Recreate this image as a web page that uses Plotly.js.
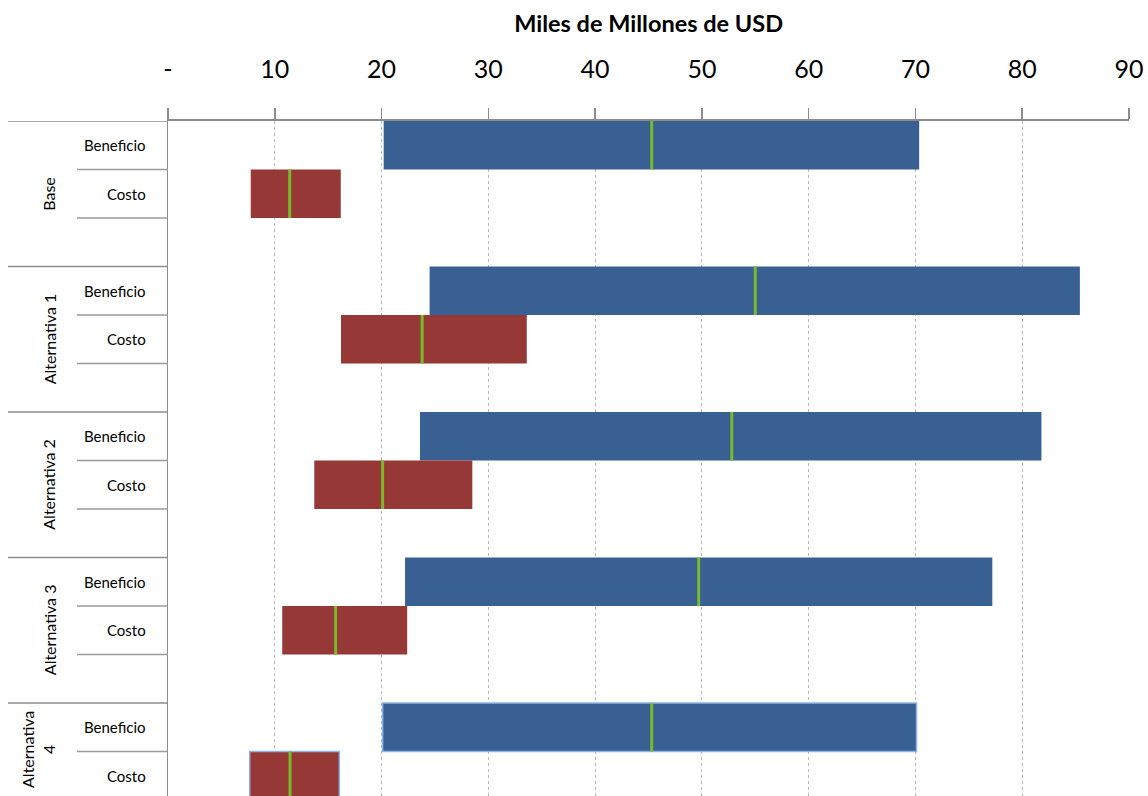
<!DOCTYPE html>
<html>
<head>
<meta charset="utf-8">
<script src="https://cdn.plot.ly/plotly-3.0.1.min.js"></script>
<style>html,body{margin:0;padding:0;background:#fff;}#chart{width:1148px;height:796px;}</style>
</head>
<body>
<div id="chart"></div>
<script>
// ---- data ----
const groups = ['Base', 'Alternativa 1', 'Alternativa 2', 'Alternativa 3', 'Alternativa 4'];
const groupLabels = ['Base', 'Alternativa 1', 'Alternativa 2', 'Alternativa 3', 'Alternativa<br>4'];
const subLabels = ['Beneficio', 'Costo'];
const benMin = [20.2, 24.5, 23.6, 22.2, 20.1];
const benMax = [70.35, 85.4, 81.8, 77.2, 70.1];
const benMid = [45.3, 55.0, 52.8, 49.7, 45.3];
const costMin = [7.75, 16.2, 13.7, 10.7, 7.65];
const costMax = [16.18, 33.6, 28.5, 22.4, 16.05];
const costMid = [11.4, 23.8, 20.1, 15.7, 11.43];
const xTickVals = [0, 10, 20, 30, 40, 50, 60, 70, 80, 90];
const xTickText = ['-', '10', '20', '30', '40', '50', '60', '70', '80', '90'];
const xTitle = 'Miles de Millones de USD';

// ---- build categories (with blank spacer rows between groups) ----
const cats = [];
groups.forEach((g, i) => {
  cats.push(g + '|Beneficio');
  cats.push(g + '|Costo');
  if (i < groups.length - 1) cats.push(g + '|');
});
const benCats = groups.map(g => g + '|Beneficio');
const costCats = groups.map(g => g + '|Costo');

const blue = '#386092', red = '#953836', green = '#7AB92C';
const lastBlue = '#8DB3E2';
const rowPx = 48.5;
const markerSize = rowPx / 1.4; // line-ns symbol spans 1.4 * size

const traces = [
  {
    type: 'bar', orientation: 'h', y: benCats,
    x: benMax.map((v, i) => v - benMin[i]), base: benMin,
    width: 1,
    marker: {color: blue, line: {color: groups.map((g, i) => i === groups.length - 1 ? lastBlue : blue), width: groups.map((g, i) => i === groups.length - 1 ? 1.5 : 0)}},
    hoverinfo: 'x+y'
  },
  {
    type: 'bar', orientation: 'h', y: costCats,
    x: costMax.map((v, i) => v - costMin[i]), base: costMin,
    width: 1,
    marker: {color: red, line: {color: groups.map((g, i) => i === groups.length - 1 ? lastBlue : red), width: groups.map((g, i) => i === groups.length - 1 ? 1.5 : 0)}},
    hoverinfo: 'x+y'
  },
  {
    type: 'scatter', mode: 'markers', y: benCats, x: benMid,
    marker: {symbol: 'line-ns', size: markerSize, color: green, line: {color: green, width: 3}},
    hoverinfo: 'x'
  },
  {
    type: 'scatter', mode: 'markers', y: costCats, x: costMid,
    marker: {symbol: 'line-ns', size: markerSize, color: green, line: {color: green, width: 3}},
    hoverinfo: 'x'
  }
];

// ---- left hierarchical labels & dividers ----
const plotL = 168, plotR = 19, W = 1148;
const pw = W - plotL - plotR;
const px2paper = p => (p - plotL) / pw;
const labelFont = {family: 'Lato, "Open Sans", sans-serif', size: 15, color: '#000'};
const groupFont = {family: 'Lato, "Open Sans", sans-serif', size: 16, color: '#000'};

const shapes = [];
const annotations = [];
let idx = 0;
groups.forEach((g, i) => {
  const start = idx;
  const last = i === groups.length - 1;
  const n = last ? 2 : 3;
  shapes.push({type: 'line', xref: 'paper', yref: 'y', x0: px2paper(8), x1: 0, y0: start - 0.5, y1: start - 0.5,
    line: {color: '#8c8c8c', width: 1.5}});
  for (let k = 1; k < n; k++) {
    shapes.push({type: 'line', xref: 'paper', yref: 'y', x0: px2paper(77), x1: 0, y0: start + k - 0.5, y1: start + k - 0.5,
      line: {color: '#9a9a9a', width: 1.5}});
  }
  subLabels.forEach((s, k) => {
    annotations.push({xref: 'paper', yref: 'y', x: px2paper(148), y: start + k, text: s, showarrow: false,
      xanchor: 'right', yanchor: 'middle', font: labelFont});
  });
  annotations.push({xref: 'paper', yref: 'y', x: px2paper(last ? 38 : 49), y: last ? start + 0.47 : start + 1,
    text: groupLabels[i], showarrow: false, textangle: -90, xanchor: 'center', yanchor: 'middle',
    font: groupFont});
  idx += n;
});

const layout = {
  width: 1148, height: 796,
  margin: {l: plotL, r: plotR, t: 121, b: 0, pad: 0},
  paper_bgcolor: '#fff', plot_bgcolor: '#fff',
  showlegend: false,
  barmode: 'overlay',
  title: {text: '<b>' + xTitle + '</b>', xref: 'container', yref: 'container', x: 0.565, y: 1 - 24 / 796,
    xanchor: 'center', yanchor: 'middle', font: {family: 'Lato, "Open Sans", sans-serif', size: 23.5, color: '#000'}},
  xaxis: {
    side: 'top', range: [0, 90], tickvals: xTickVals, ticktext: xTickText,
    ticks: 'outside', ticklen: 11, tickwidth: 1.5, tickcolor: '#8c8c8c',
    showline: true, linecolor: '#8c8c8c', linewidth: 2,
    showgrid: true, gridcolor: '#b8b8b8', griddash: 'dot', gridwidth: 1,
    zeroline: false, ticklabelstandoff: 20,
    tickfont: {family: 'Lato, "Open Sans", sans-serif', size: 25, color: '#000'},
    fixedrange: true
  },
  yaxis: {
    type: 'category', categoryorder: 'array', categoryarray: cats,
    range: [13.42, -0.5], showticklabels: false, ticks: '',
    showline: true, linecolor: '#8c8c8c', linewidth: 1.5,
    showgrid: false, zeroline: false, fixedrange: true
  },
  shapes: shapes,
  annotations: annotations
};

Plotly.newPlot('chart', traces, layout, {displayModeBar: false, staticPlot: true});
</script>
</body>
</html>
